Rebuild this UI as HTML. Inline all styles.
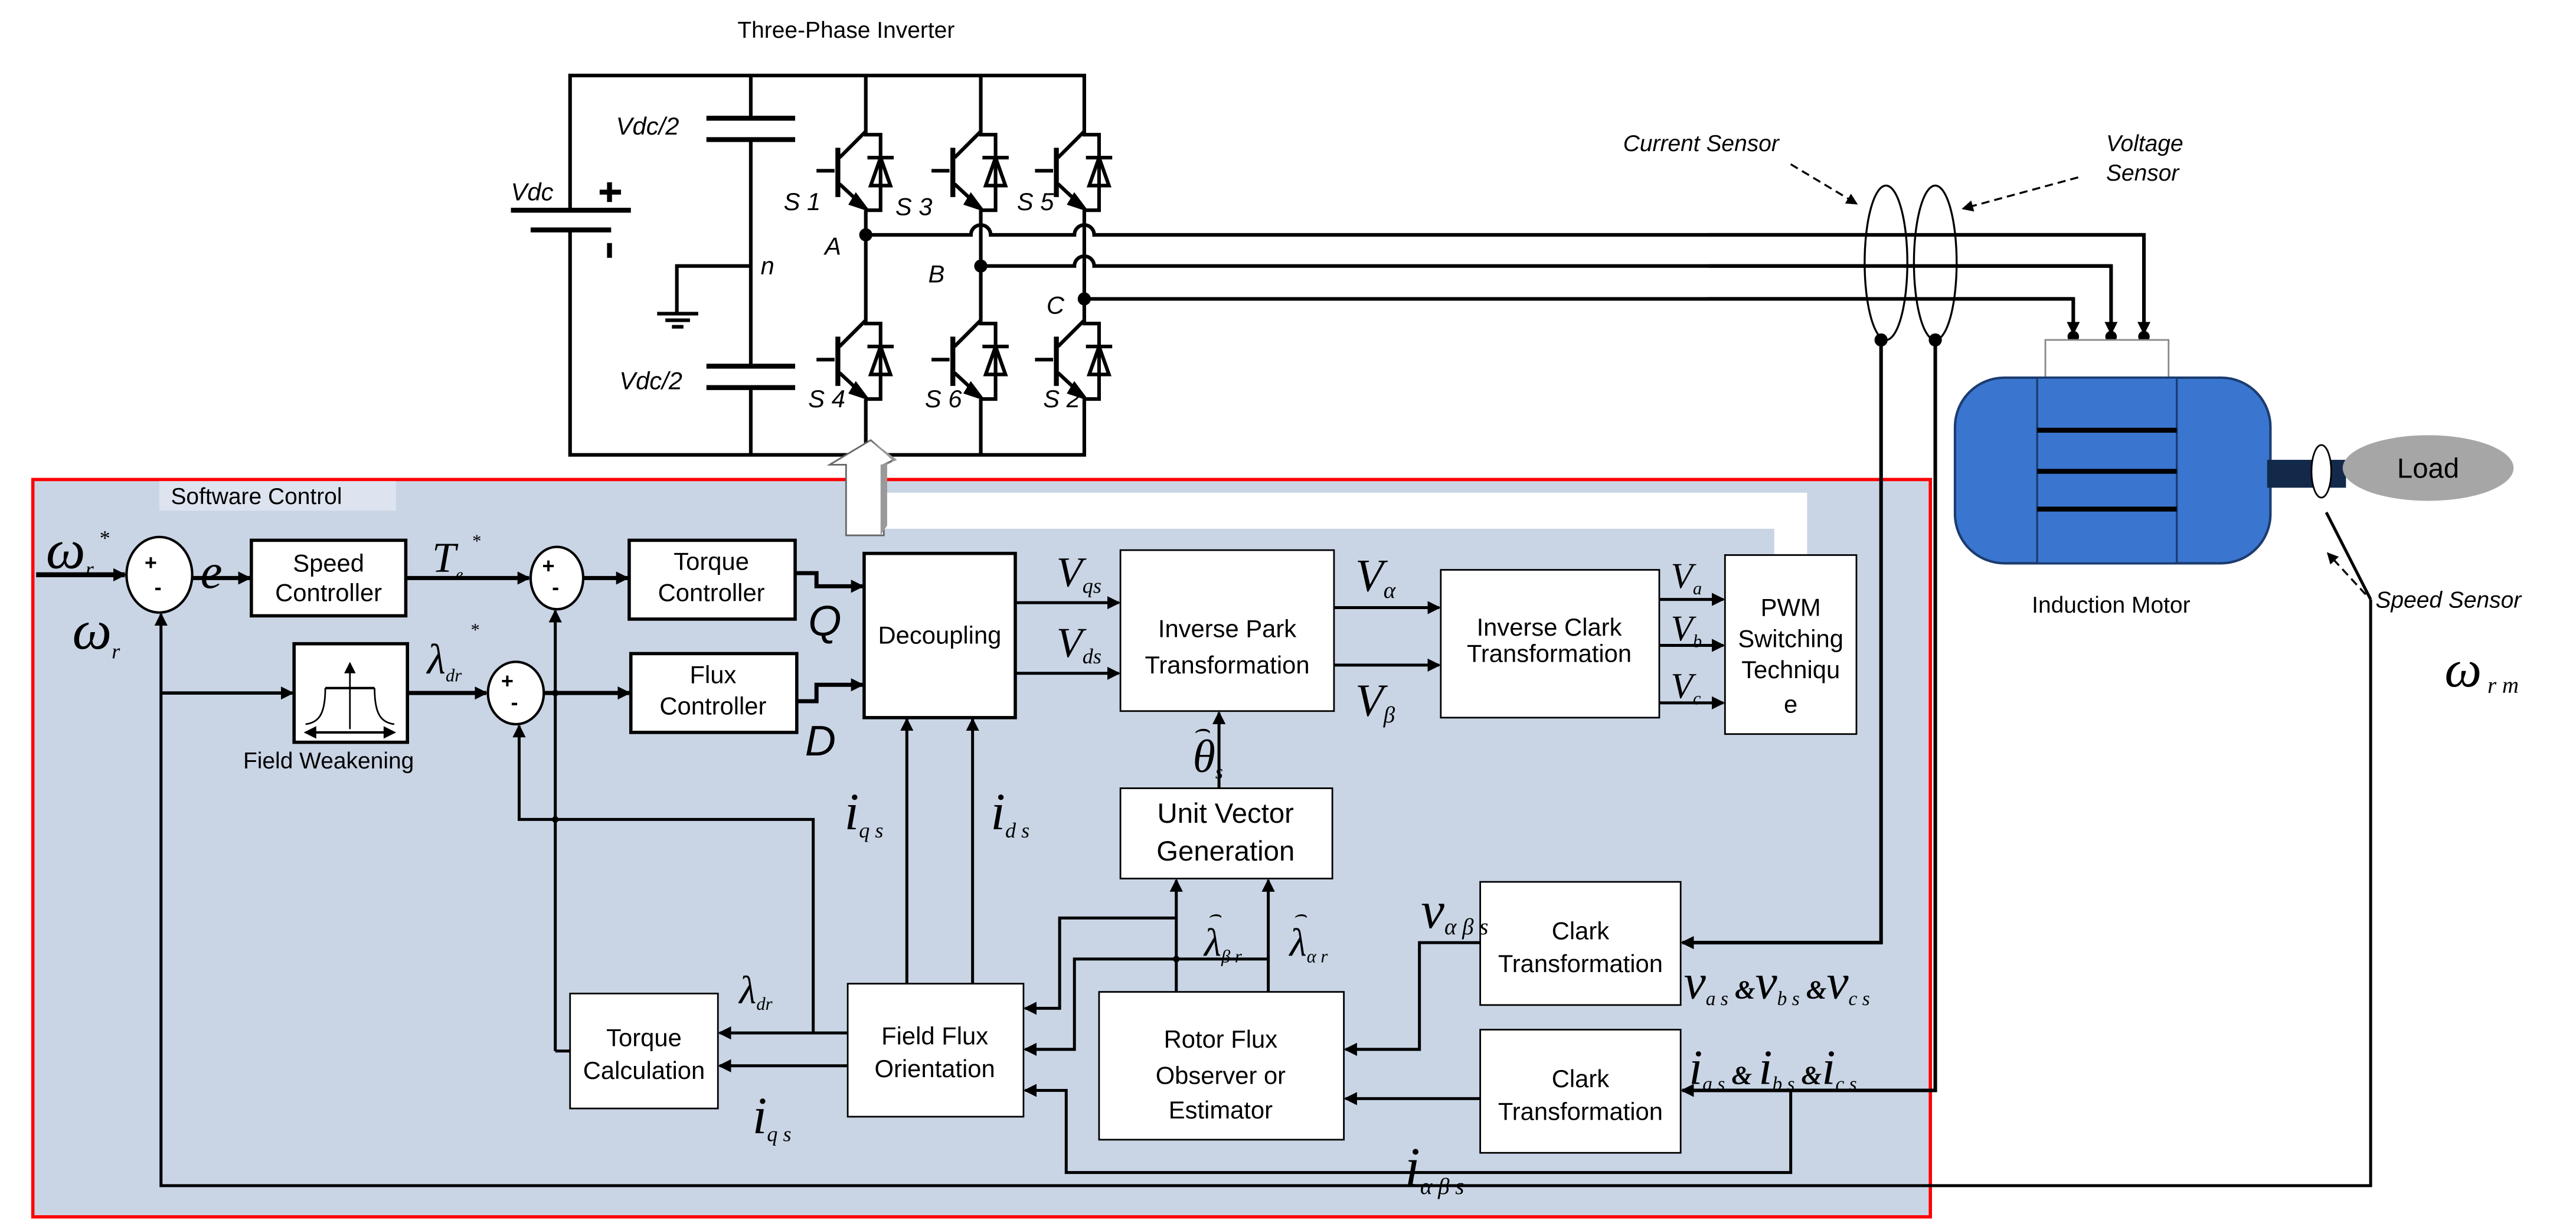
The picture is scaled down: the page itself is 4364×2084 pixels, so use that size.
<!DOCTYPE html>
<html><head><meta charset="utf-8"><style>
html,body{margin:0;padding:0;background:#fff;}
svg{display:block;}
text{font-family:"Liberation Sans",sans-serif;}
.m, .m text{font-family:"Liberation Serif",serif;font-style:italic;}
</style></head><body>
<svg width="4364" height="2084" viewBox="0 0 1568 749" preserveAspectRatio="none" xmlns="http://www.w3.org/2000/svg">
<defs>
<marker id="a" markerWidth="8" markerHeight="8" refX="7" refY="4" orient="auto" markerUnits="userSpaceOnUse"><path d="M0,0 L8,4 L0,8 z" fill="#000"/></marker>
<marker id="s" markerWidth="7" markerHeight="7" refX="6" refY="3.5" orient="auto" markerUnits="userSpaceOnUse"><path d="M0,0 L7,3.5 L0,7 z" fill="#000"/></marker>
<g id="igbt" stroke="#000" stroke-width="2.2" fill="none">
<line x1="-30" y1="22" x2="-19" y2="22"/>
<line x1="-17" y1="8" x2="-17" y2="38" stroke-width="3"/>
<line x1="-16" y1="14" x2="0" y2="-2"/>
<line x1="-16" y1="30" x2="-1" y2="44"/>
<path d="M-6,37 L0,45 L-9,42 z" fill="#000"/>
<polyline points="0,-2 0,0 9,0 9,46 0,46"/>
<line x1="1" y1="14" x2="17" y2="14"/>
<path d="M9,14 L3,31 L15,31 z"/>
</g>
</defs>

<text x="515" y="23" font-size="14" text-anchor="middle">Three-Phase Inverter</text>

<g stroke="#000" stroke-width="2.2" fill="none">
<polyline points="347,128 347,46 660,46 660,82"/>
<polyline points="347,140 347,277 660,277 660,242"/>
<line x1="457" y1="46" x2="457" y2="72"/>
<line x1="457" y1="85" x2="457" y2="223"/>
<line x1="457" y1="236" x2="457" y2="277"/>
<line x1="430" y1="72" x2="484" y2="72" stroke-width="3"/>
<line x1="430" y1="85" x2="484" y2="85" stroke-width="3"/>
<line x1="430" y1="223" x2="484" y2="223" stroke-width="3"/>
<line x1="430" y1="236" x2="484" y2="236" stroke-width="3"/>
<line x1="311" y1="128" x2="384" y2="128" stroke-width="3"/>
<line x1="323" y1="140" x2="372" y2="140" stroke-width="3"/>
<line x1="365" y1="117" x2="378" y2="117" stroke-width="3"/>
<line x1="371" y1="111" x2="371" y2="123" stroke-width="3"/>
<line x1="371" y1="148" x2="371" y2="157" stroke-width="3"/>
<polyline points="457,162 412,162 412,191"/>
<line x1="400" y1="191" x2="425" y2="191"/>
<line x1="405" y1="195" x2="420" y2="195"/>
<line x1="409" y1="199" x2="416" y2="199"/>
<line x1="527" y1="46" x2="527" y2="80"/>
<line x1="527" y1="128" x2="527" y2="195"/>
<line x1="527" y1="243" x2="527" y2="277"/>
<line x1="597" y1="46" x2="597" y2="80"/>
<line x1="597" y1="128" x2="597" y2="195"/>
<line x1="597" y1="243" x2="597" y2="277"/>
<line x1="660" y1="128" x2="660" y2="195"/>
<path d="M527,143 L591,143 A6,6 0 0 1 603,143 L654,143 A6,6 0 0 1 666,143 L1305,143 L1305,203" marker-end="url(#a)"/>
<path d="M597,162 L654,162 A6,6 0 0 1 666,162 L1285,162 L1285,203" marker-end="url(#a)"/>
<path d="M660,182 L1262,182 L1262,203" marker-end="url(#a)"/>
</g>
<use href="#igbt" x="527" y="82"/><use href="#igbt" x="597" y="82"/><use href="#igbt" x="660" y="82"/>
<use href="#igbt" x="527" y="197"/><use href="#igbt" x="597" y="197"/><use href="#igbt" x="660" y="197"/>
<g fill="#000"><circle cx="527" cy="143" r="4"/><circle cx="597" cy="162" r="4"/><circle cx="660" cy="182" r="4"/></g>
<g font-size="15" fill="#000" style="font-style:italic">
<text x="311" y="122">Vdc</text><text x="375" y="82">Vdc/2</text><text x="377" y="237">Vdc/2</text>
<text x="463" y="167">n</text>
<text x="477" y="128">S 1</text><text x="545" y="131">S 3</text><text x="619" y="128">S 5</text>
<text x="492" y="248">S 4</text><text x="563" y="248">S 6</text><text x="635" y="248">S 2</text>
<text x="502" y="155">A</text><text x="565" y="172">B</text><text x="637" y="191">C</text>
</g>

<ellipse cx="1148" cy="160" rx="13" ry="47" fill="#fff" stroke="#000" stroke-width="1.2"/>
<ellipse cx="1178" cy="160" rx="13" ry="47" fill="#fff" stroke="#000" stroke-width="1.2"/>
<g stroke="#000" stroke-width="2.2" fill="none">
<line x1="1040" y1="143" x2="1305" y2="143"/>
<line x1="1040" y1="162" x2="1285" y2="162"/>
<line x1="1040" y1="182" x2="1262" y2="182"/>
</g>
<g fill="#000"><circle cx="1145" cy="207" r="4"/><circle cx="1178" cy="207" r="4"/>
<circle cx="1262" cy="205" r="3.5"/><circle cx="1285" cy="205" r="3.5"/><circle cx="1305" cy="205" r="3.5"/></g>
<g stroke="#000" stroke-width="1.2" stroke-dasharray="5,3" fill="none">
<line x1="1090" y1="100" x2="1130" y2="124" marker-end="url(#s)"/>
<line x1="1265" y1="108" x2="1195" y2="127" marker-end="url(#s)"/>
<line x1="1440" y1="362" x2="1417" y2="337" marker-end="url(#s)"/>
</g>
<g font-size="14" style="font-style:italic">
<text x="988" y="92">Current Sensor</text>
<text x="1282" y="92">Voltage</text><text x="1282" y="110">Sensor</text>
<text x="1446" y="370">Speed Sensor</text>
</g>

<rect x="1245" y="207" width="75" height="25" fill="#fff" stroke="#888" stroke-width="1"/>
<rect x="1190" y="230" width="192" height="113" rx="30" fill="#3a76cf" stroke="#1c3c70" stroke-width="1.5"/>
<rect x="1240" y="230" width="85" height="113" fill="#3a76cf" stroke="#1c3c70" stroke-width="1.2"/>
<g stroke="#000" stroke-width="3"><line x1="1240" y1="262" x2="1325" y2="262"/><line x1="1240" y1="287" x2="1325" y2="287"/><line x1="1240" y1="310" x2="1325" y2="310"/></g>
<rect x="1380" y="280" width="48" height="17" fill="#13294a"/>
<ellipse cx="1413" cy="287" rx="6" ry="16" fill="#fff" stroke="#000" stroke-width="1"/>
<ellipse cx="1478" cy="285" rx="52" ry="20" fill="#a6a6a6"/>
<text x="1478" y="291" font-size="17" text-anchor="middle">Load</text>
<text x="1285" y="373" font-size="14" text-anchor="middle">Induction Motor</text>
<text class="m" x="1488" y="418" font-size="32">ω<tspan font-size="14" dy="4"> r m</tspan></text>

<rect x="20" y="292" width="1155" height="449" fill="#c9d5e5" stroke="#f00" stroke-width="2"/>
<rect x="97" y="293" width="144" height="18" fill="#dde4ef"/>
<text x="104" y="307" font-size="14">Software Control</text>

<path d="M538,300 L1100,300 L1100,338 L1080,338 L1080,322 L538,322 z" fill="#fff"/>
<path d="M515,326 L515,283 L505,283 L530,268 L544,280 L538,283 L538,326 z" fill="#fff" stroke="#666" stroke-width="1"/>
<path d="M530,268 L546,280 L540,283 L540,320 L536,326 L536,283 L544,281 z" fill="#999"/>

<g fill="#fff" stroke="#000" stroke-width="2">
<rect x="153" y="329" width="94" height="46"/>
<rect x="383" y="329" width="101" height="48"/>
<rect x="384" y="398" width="101" height="48"/>
<rect x="179" y="392" width="69" height="60"/>
<rect x="526" y="337" width="92" height="100"/>
</g>
<g fill="#fff" stroke="#000" stroke-width="1">
<rect x="682" y="335" width="130" height="98"/>
<rect x="877" y="347" width="133" height="90"/>
<rect x="1050" y="338" width="80" height="109"/>
<rect x="682" y="480" width="129" height="55"/>
<rect x="516" y="599" width="107" height="81"/>
<rect x="669" y="604" width="149" height="90"/>
<rect x="347" y="605" width="90" height="70"/>
<rect x="901" y="537" width="122" height="75"/>
<rect x="901" y="627" width="122" height="75"/>
</g>
<g fill="#fff" stroke="#000" stroke-width="1.5">
<ellipse cx="97" cy="350" rx="20" ry="23"/>
<ellipse cx="339" cy="352" rx="16" ry="19"/>
<ellipse cx="314" cy="422" rx="17" ry="19"/>
</g>
<g font-size="13" font-weight="bold"><text x="88" y="347">+</text><text x="94" y="362">-</text>
<text x="330" y="349">+</text><text x="336" y="362">-</text>
<text x="305" y="419">+</text><text x="311" y="432">-</text></g>
<g stroke="#000" stroke-width="1" fill="none">
<line x1="213" y1="444" x2="213" y2="404" marker-end="url(#s)"/>
<line x1="198" y1="419" x2="228" y2="419" stroke-width="1.5"/>
<path d="M198,419 C198,435 194,440 186,441"/><path d="M228,419 C228,435 232,440 240,441"/>
<line x1="188" y1="446" x2="238" y2="446" stroke-width="1.5"/>
<path d="M186,446 L192,443 L192,449 z M240,446 L234,443 L234,449 z" fill="#000"/>
</g>

<g font-size="15" text-anchor="middle">
<text x="200" y="348">Speed</text><text x="200" y="366">Controller</text>
<text x="433" y="347">Torque</text><text x="433" y="366">Controller</text>
<text x="434" y="416">Flux</text><text x="434" y="435">Controller</text>
<text x="572" y="392">Decoupling</text>
<text x="747" y="388">Inverse Park</text><text x="747" y="410">Transformation</text>
<text x="943" y="387">Inverse Clark</text><text x="943" y="403">Transformation</text>
<text x="1090" y="375">PWM</text><text x="1090" y="394">Switching</text><text x="1090" y="413">Techniqu</text><text x="1090" y="434">e</text>
<text x="746" y="501" font-size="17">Unit Vector</text><text x="746" y="524" font-size="17">Generation</text>
<text x="569" y="636">Field Flux</text><text x="569" y="656">Orientation</text>
<text x="743" y="638">Rotor Flux</text><text x="743" y="660">Observer or</text><text x="743" y="681">Estimator</text>
<text x="392" y="637">Torque</text><text x="392" y="657">Calculation</text>
<text x="962" y="572">Clark</text><text x="962" y="592">Transformation</text>
<text x="962" y="662">Clark</text><text x="962" y="682">Transformation</text>
<text x="200" y="468" font-size="14">Field Weakening</text>
</g>

<g stroke="#000" stroke-width="2.5" fill="none">
<line x1="22" y1="350" x2="76" y2="350" stroke-width="3" marker-end="url(#a)"/>
<line x1="117" y1="352" x2="152" y2="352" marker-end="url(#a)"/>
<line x1="247" y1="352" x2="322" y2="352" marker-end="url(#a)"/>
<line x1="355" y1="352" x2="382" y2="352" marker-end="url(#a)"/>
<polyline points="484,349 497,349 497,357 525,357" marker-end="url(#a)"/>
<polyline points="485,427 497,427 497,417 525,417" marker-end="url(#a)"/>
<line x1="98" y1="422" x2="178" y2="422" stroke-width="2"  marker-end="url(#a)"/>
<line x1="248" y1="422" x2="296" y2="422" marker-end="url(#a)"/>
<line x1="331" y1="422" x2="383" y2="422" marker-end="url(#a)"/>
</g>
<g stroke="#000" stroke-width="1.8" fill="none">
<polyline points="1443,365 1416,312"/>
<polyline points="1443,365 1443,722 98,722 98,374" marker-end="url(#a)"/>
<polyline points="338,640 338,372" marker-end="url(#a)"/>
<polyline points="338,640 347,640"/>
<polyline points="495,629 495,499 316,499 316,442" marker-end="url(#a)"/>
<line x1="516" y1="629" x2="438" y2="629" marker-end="url(#a)"/>
<line x1="516" y1="649" x2="438" y2="649" marker-end="url(#a)"/>
<line x1="552" y1="599" x2="552" y2="438" marker-end="url(#a)"/>
<line x1="592" y1="599" x2="592" y2="438" marker-end="url(#a)"/>
<line x1="618" y1="367" x2="681" y2="367" marker-end="url(#a)"/>
<line x1="618" y1="410" x2="681" y2="410" marker-end="url(#a)"/>
<line x1="812" y1="370" x2="876" y2="370" marker-end="url(#a)"/>
<line x1="812" y1="405" x2="876" y2="405" marker-end="url(#a)"/>
<line x1="1010" y1="365" x2="1049" y2="365" marker-end="url(#a)"/>
<line x1="1010" y1="393" x2="1049" y2="393" marker-end="url(#a)"/>
<line x1="1010" y1="428" x2="1049" y2="428" marker-end="url(#a)"/>
<line x1="742" y1="480" x2="742" y2="434" marker-end="url(#a)"/>
<line x1="716" y1="604" x2="716" y2="536" marker-end="url(#a)"/>
<line x1="772" y1="604" x2="772" y2="536" marker-end="url(#a)"/>
<polyline points="716,559 645,559 645,614 624,614" marker-end="url(#a)"/>
<polyline points="772,584 654,584 654,639 624,639" marker-end="url(#a)"/>
<polyline points="901,574 864,574 864,639 819,639" marker-end="url(#a)"/>
<line x1="901" y1="669" x2="819" y2="669" marker-end="url(#a)"/>
<polyline points="1090,664 1090,714 649,714 649,664 624,664" marker-end="url(#a)"/>
<polyline points="1145,207 1145,574 1024,574" stroke-width="2.2" marker-end="url(#a)"/>
<polyline points="1178,207 1178,664 1024,664" stroke-width="2.2" marker-end="url(#a)"/>
</g>
<g fill="#000"><circle cx="338" cy="422" r="2"/><circle cx="338" cy="499" r="2"/><circle cx="716" cy="584" r="2"/></g>

<g class="m" fill="#000">
<text x="28" y="346" font-size="34">ω<tspan font-size="13" dy="5">r</tspan></text>
<text x="60" y="332" font-size="13">*</text>
<text x="44" y="395" font-size="34">ω<tspan font-size="13" dy="6">r</tspan></text>
<text x="122" y="358" font-size="30">e</text>
<text x="263" y="348" font-size="26">T<tspan font-size="10" dy="5">e</tspan></text><text x="287" y="333" font-size="11">*</text>
<text x="260" y="410" font-size="26">λ<tspan font-size="11" dy="5">dr</tspan></text><text x="286" y="387" font-size="11">*</text>
<text x="492" y="387" font-size="26" style="font-family:'Liberation Sans',sans-serif">Q</text>
<text x="490" y="460" font-size="26" style="font-family:'Liberation Sans',sans-serif">D</text>
<text x="643" y="357" font-size="26">V<tspan font-size="13" dy="4">qs</tspan></text>
<text x="643" y="400" font-size="26">V<tspan font-size="13" dy="4">ds</tspan></text>
<text x="825" y="360" font-size="28">V<tspan font-size="14" dy="4">α</tspan></text>
<text x="825" y="436" font-size="28">V<tspan font-size="14" dy="4">β</tspan></text>
<text x="1017" y="358" font-size="22">V<tspan font-size="11" dy="4">a</tspan></text>
<text x="1017" y="390" font-size="22">V<tspan font-size="11" dy="4">b</tspan></text>
<text x="1017" y="425" font-size="22">V<tspan font-size="11" dy="4">c</tspan></text>
<text x="726" y="470" font-size="28">θ<tspan font-size="12" dy="4">s</tspan></text>
<text x="726" y="449" font-size="16">⌢</text>
<text x="514" y="505" font-size="32">i<tspan font-size="13" dy="5">q s</tspan></text>
<text x="603" y="505" font-size="32">i<tspan font-size="13" dy="5">d s</tspan></text>
<text x="733" y="582" font-size="24">λ<tspan font-size="11" dy="4">β r</tspan></text>
<text x="785" y="582" font-size="24">λ<tspan font-size="11" dy="4">α r</tspan></text>
<text x="735" y="561" font-size="13">⌢</text><text x="787" y="561" font-size="13">⌢</text>
<text x="865" y="565" font-size="32">v<tspan font-size="14" dy="4">α β s</tspan></text>
<text x="450" y="611" font-size="24">λ<tspan font-size="11" dy="4">dr</tspan></text>
<text x="458" y="690" font-size="32">i<tspan font-size="13" dy="5">q s</tspan></text>
<text x="855" y="722" font-size="34">i<tspan font-size="14" dy="5">α β s</tspan></text>
<text x="1025" y="608" font-size="30">v<tspan font-size="12" dy="4">a s</tspan><tspan font-size="16" dy="-4" font-weight="bold"> &amp;</tspan>v<tspan font-size="12" dy="4">b s</tspan><tspan font-size="16" dy="-4" font-weight="bold"> &amp;</tspan>v<tspan font-size="12" dy="4">c s</tspan></text>
<text x="1028" y="660" font-size="30">i<tspan font-size="12" dy="4">a s</tspan><tspan font-size="16" dy="-4" font-weight="bold"> &amp; </tspan>i<tspan font-size="12" dy="4">b s</tspan><tspan font-size="16" dy="-4" font-weight="bold"> &amp;</tspan>i<tspan font-size="12" dy="4">c s</tspan></text>
</g>
</svg>
</body></html>
